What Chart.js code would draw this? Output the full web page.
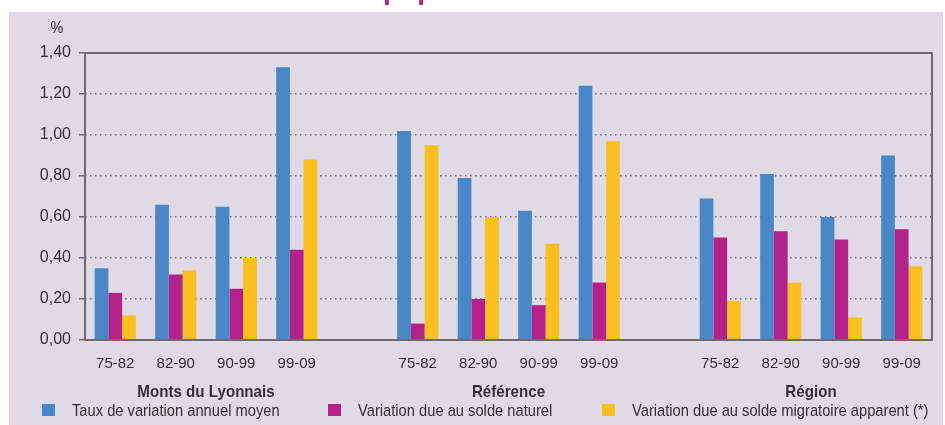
<!DOCTYPE html>
<html>
<head>
<meta charset="utf-8">
<script src="https://cdn.jsdelivr.net/npm/chart.js@4.4.1/dist/chart.umd.min.js"></script>
<style>
  html, body { margin: 0; padding: 0; background: #ffffff; }
  canvas { display: block; }
</style>
</head>
<body>
<canvas id="chart" width="945" height="425"></canvas>
<script>
var groups = ['Monts du Lyonnais', 'Référence', 'Région'];
var periods = ['75-82', '82-90', '90-99', '99-09'];
var seriesNames = ['Taux de variation annuel moyen', 'Variation due au solde naturel', 'Variation due au solde migratoire apparent (*)'];
var yTicks = [0, 0.2, 0.4, 0.6, 0.8, 1.0, 1.2, 1.4];

// values per group, in period order
var taux = [
    [0.35, 0.66, 0.65, 1.33],
    [1.02, 0.79, 0.63, 1.24],
    [0.69, 0.81, 0.60, 0.90]
];
var naturel = [
    [0.23, 0.32, 0.25, 0.44],
    [0.08, 0.20, 0.17, 0.28],
    [0.50, 0.53, 0.49, 0.54]
];
var migratoire = [
    [0.12, 0.34, 0.40, 0.88],
    [0.95, 0.60, 0.47, 0.97],
    [0.19, 0.28, 0.11, 0.36]
];

var colors = ['#4a87c6', '#b5218b', '#fbc020'];
var bgPanel = '#dfdae5';
var textColor = '#333035';
var frameColor = '#6f6a72';
var font = "'Liberation Sans', Arial, sans-serif";

// one empty slot between groups
var labels = [];
var groupRanges = [];
for (var g = 0; g < groups.length; g++) {
    if (g > 0) labels.push('');
    var start = labels.length;
    for (var p = 0; p < periods.length; p++) labels.push(periods[p]);
    groupRanges.push([start, labels.length - 1]);
}

function flatten(values) {
    var out = [];
    for (var g = 0; g < values.length; g++) {
        if (g > 0) out.push(null);
        out = out.concat(values[g]);
    }
    return out;
}

var allSeries = [taux, naturel, migratoire];
var datasets = [];
for (var i = 0; i < allSeries.length; i++) {
    datasets.push({
        label: seriesNames[i],
        data: flatten(allSeries[i]),
        backgroundColor: colors[i],
        borderWidth: 0,
        categoryPercentage: 0.68,
        barPercentage: 1.0
    });
}

// narrow-looking text: draw a bigger font squeezed horizontally
function narrowText(ctx, text, x, y, sx) {
    ctx.save();
    ctx.translate(x, y);
    ctx.scale(sx, 1);
    ctx.fillText(text, 0, 0);
    ctx.restore();
}

var decorPlugin = {
    id: 'decor',
    beforeDraw: function (chart) {
        var ctx = chart.ctx;
        ctx.save();
        ctx.fillStyle = '#ffffff';
        ctx.fillRect(0, 0, 945, 425);
        // cut-off title, only the descenders show
        ctx.fillStyle = '#b5218b';
        ctx.font = "bold 28px " + font;
        ctx.textBaseline = 'alphabetic';
        ctx.textAlign = 'left';
        var pre = 'Évolution de la ';
        var w = ctx.measureText(pre).width;
        ctx.fillText(pre + 'population', 383 - w, -1);
        ctx.fillStyle = bgPanel;
        ctx.fillRect(9, 12, 934, 413);
        ctx.restore();
    },
    afterDraw: function (chart) {
        var ctx = chart.ctx;
        var area = chart.chartArea;
        var xs = chart.scales.x;
        ctx.save();
        // frame
        ctx.strokeStyle = frameColor;
        ctx.lineWidth = 2;
        ctx.strokeRect(area.left, area.top, area.right - area.left, area.bottom - area.top);

        ctx.fillStyle = textColor;
        ctx.textAlign = 'center';
        ctx.textBaseline = 'middle';
        ctx.font = '17px ' + font;
        narrowText(ctx, '%', area.left - 28, 28, 0.85);

        // group names
        ctx.font = 'bold 17px ' + font;
        for (var g = 0; g < groups.length; g++) {
            var cx = (xs.getPixelForValue(groupRanges[g][0]) + xs.getPixelForValue(groupRanges[g][1])) / 2;
            narrowText(ctx, groups[g], cx, 392, 0.89);
        }

        // legend
        var legendX = [42, 328, 602];
        ctx.font = '17px ' + font;
        ctx.textAlign = 'left';
        for (var i = 0; i < chart.data.datasets.length; i++) {
            var ds = chart.data.datasets[i];
            ctx.fillStyle = ds.backgroundColor;
            ctx.fillRect(legendX[i], 404, 13, 12);
            ctx.fillStyle = textColor;
            narrowText(ctx, ds.label, legendX[i] + 30, 411, 0.865);
        }
        ctx.restore();
    }
};

new Chart(document.getElementById('chart').getContext('2d'), {
    type: 'bar',
    data: { labels: labels, datasets: datasets },
    plugins: [decorPlugin],
    options: {
        responsive: false,
        animation: false,
        layout: { padding: { top: 53, right: 13, left: 0, bottom: 0 } },
        plugins: {
            legend: { display: false },
            tooltip: { enabled: false }
        },
        scales: {
            x: {
                grid: { display: false, drawTicks: false },
                border: { display: false },
                ticks: {
                    color: textColor,
                    font: { family: font, size: 15 },
                    padding: 15,
                    autoSkip: false,
                    maxRotation: 0
                },
                afterFit: function (scale) { scale.height = 85; }
            },
            y: {
                min: 0,
                max: 1.4,
                afterBuildTicks: function (scale) {
                    scale.ticks = yTicks.map(function (v) { return { value: v }; });
                },
                grid: {
                    color: function (c) {
                        return (c.tick && (c.tick.value === 0 || c.tick.value === 1.4)) ? 'rgba(0,0,0,0)' : '#77727b';
                    },
                    lineWidth: 1.5,
                    tickColor: frameColor,
                    tickLength: 6,
                    tickWidth: 1.5,
                    tickBorderDash: []
                },
                border: { display: false, dash: [1.5, 3.5] },
                ticks: {
                    color: textColor,
                    font: { family: font, size: 16 },
                    padding: 8,
                    callback: function (v) { return Number(v).toFixed(2).replace('.', ','); }
                },
                afterFit: function (scale) { scale.width = 85; }
            }
        }
    }
});
</script>
</body>
</html>
